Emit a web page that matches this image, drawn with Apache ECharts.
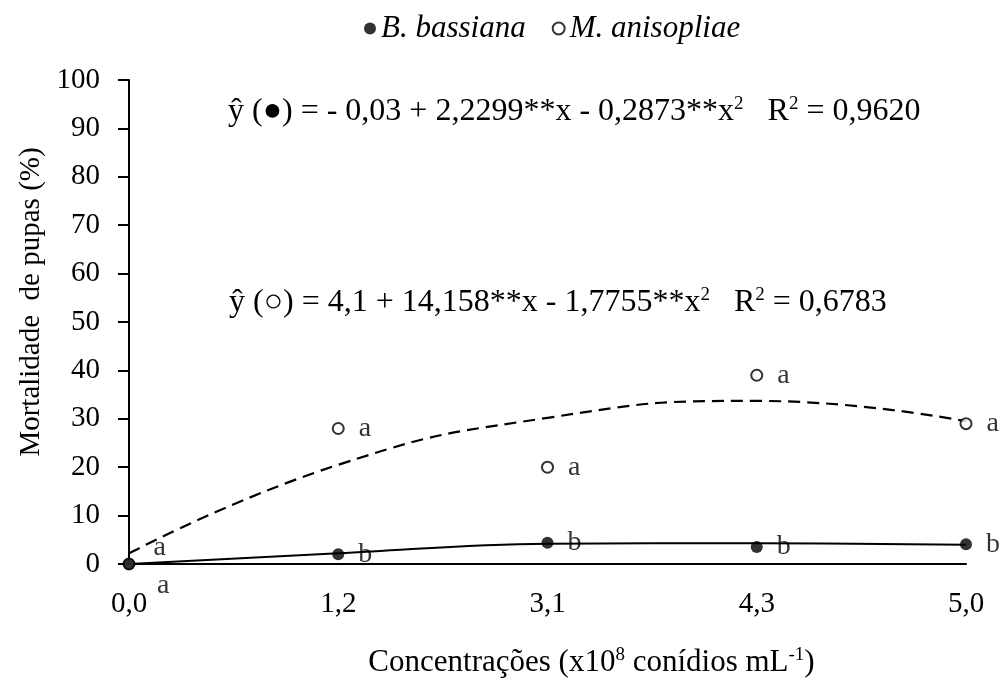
<!DOCTYPE html>
<html>
<head>
<meta charset="utf-8">
<script src="https://cdn.jsdelivr.net/npm/echarts@6/dist/echarts.min.js"></script>
<style>
  html, body { margin: 0; padding: 0; background: #fff; }
  #main { width: 1005px; height: 691px; }
</style>
</head>
<body>
<div id="main"></div>
<script>
// concentrations (x10^8 conidia/mL)
var categories = ['0,0', '1,2', '3,1', '4,3', '5,0'];
// observed pupal mortality (%)
var bassiana = [0, 2, 4.4, 3.5, 4.1];
var anisopliae = [0, 28, 20, 39, 29];
// letters (Tukey) next to each point
var bassianaLetters = ['a', 'b', 'b', 'b', 'b'];
var anisopliaeLetters = ['a', 'a', 'a', 'a', 'a'];
// fitted curves
var bassianaFit = [0, 2.2, 4.2, 4.3, 4.0];
var anisopliaeFit = [2.2, 20.5, 30.2, 33.7, 29.5];
var yTicks = [0, 10, 20, 30, 40, 50, 60, 70, 80, 90, 100];

var serif = 'Liberation Serif';
var chart = echarts.init(document.getElementById('main'));

function pts(values, letters, firstOffset) {
    return values.map(function (v, i) {
        var o = { value: v, label: { formatter: letters[i] } };
        if (i === 0) o.label.offset = firstOffset;
        return o;
    });
}

var labelStyle = {
    show: true,
    position: 'right',
    distance: 14,
    color: '#000',
    fontFamily: serif,
    fontSize: 28
};

var supStyle = { fontSize: 19, fontFamily: serif, fill: '#000', padding: [0, 0, 14, 0] };

var option = {
    animation: false,
    textStyle: { fontFamily: serif, color: '#000' },
    legend: {
        left: 359,
        top: 8,
        itemGap: 26,
        itemWidth: 12,
        itemHeight: 12,
        textStyle: { fontFamily: serif, fontSize: 31, fontStyle: 'italic', color: '#000' },
        data: [
            { name: 'B. bassiana', icon: 'circle' },
            { name: 'M. anisopliae', icon: 'emptyCircle' }
        ]
    },
    grid: { left: 129, right: 39, top: 80, bottom: 127, containLabel: false, outerBoundsMode: 'none' },
    xAxis: {
        type: 'category',
        data: categories,
        boundaryGap: false,
        axisLine: { lineStyle: { color: '#000', width: 2 } },
        axisTick: { show: false },
        axisLabel: { color: '#000', fontFamily: serif, fontSize: 29, margin: 26 },
        name: 'Concentrações (x10{sup|8} conídios mL{sup|-1})',
        nameLocation: 'middle',
        nameGap: 82,
        nameTextStyle: {
            fontFamily: serif, fontSize: 31, color: '#000', padding: [0, 0, 0, 88],
            rich: { sup: { fontFamily: serif, fontSize: 19, color: '#000', verticalAlign: 'top', padding: [0, 0, 14, 0] } }
        }
    },
    yAxis: {
        type: 'value',
        min: yTicks[0],
        max: yTicks[yTicks.length - 1],
        interval: 10,
        splitLine: { show: false },
        axisLine: { show: true, lineStyle: { color: '#000', width: 2 } },
        axisTick: { show: true, length: 11, lineStyle: { color: '#000', width: 2 } },
        axisLabel: { color: '#000', fontFamily: serif, fontSize: 29, margin: 29 },
        name: 'Mortalidade  de pupas (%)',
        nameLocation: 'middle',
        nameGap: 80,
        nameTextStyle: { fontFamily: serif, fontSize: 29, color: '#000', padding: [0, 0, 0, 40] }
    },
    graphic: [
        {
            type: 'text', left: 228, top: 95,
            style: {
                text: 'ŷ (●) = - 0,03 + 2,2299**x - 0,2873**x{sup|2}   R{sup|2} = 0,9620',
                font: '32px "' + serif + '"', fill: '#000',
                rich: { sup: supStyle }
            }
        },
        {
            type: 'text', left: 229, top: 286,
            style: {
                text: 'ŷ (○) = 4,1 + 14,158**x - 1,7755**x{sup|2}   R{sup|2} = 0,6783',
                font: '32px "' + serif + '"', fill: '#000',
                rich: { sup: supStyle }
            }
        }
    ],
    series: [
        {
            name: 'B. bassiana fit',
            type: 'line',
            data: bassianaFit,
            smooth: 0.4,
            symbol: 'none',
            silent: true,
            z: 2,
            lineStyle: { color: '#000', width: 2 }
        },
        {
            name: 'M. anisopliae fit',
            type: 'line',
            data: anisopliaeFit,
            smooth: 0.5,
            symbol: 'none',
            silent: true,
            z: 2,
            lineStyle: { color: '#000', width: 2.2, type: [12, 7] }
        },
        {
            name: 'M. anisopliae',
            type: 'scatter',
            data: pts(anisopliae, anisopliaeLetters, [4, -16]),
            symbol: 'emptyCircle',
            symbolSize: 11,
            z: 3,
            itemStyle: { color: '#000', borderColor: '#000', borderWidth: 2.5 },
            label: labelStyle
        },
        {
            name: 'B. bassiana',
            type: 'scatter',
            data: pts(bassiana, bassianaLetters, [8, 22]),
            symbol: 'circle',
            symbolSize: 12,
            z: 4,
            itemStyle: { color: '#000' },
            label: labelStyle
        }
    ]
};
chart.setOption(option);
</script>
</body>
</html>
